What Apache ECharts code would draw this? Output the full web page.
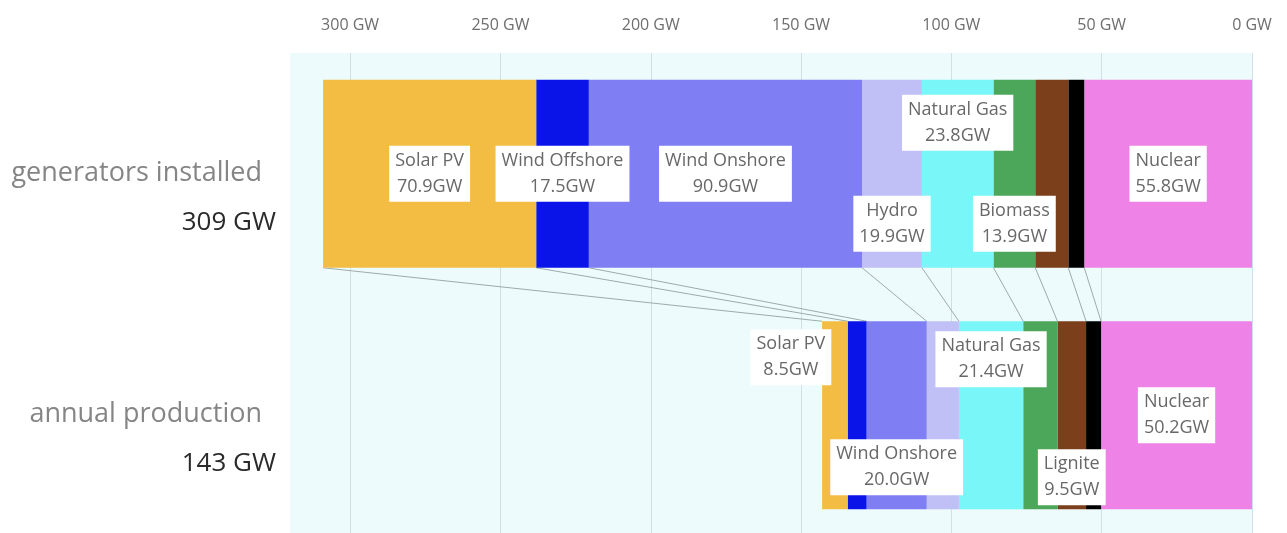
<!DOCTYPE html>
<html>
<head>
<meta charset="utf-8">
<script src="https://cdn.jsdelivr.net/npm/echarts@6/dist/echarts.min.js"></script>
<style>
  html, body { margin: 0; padding: 0; background: #fff; overflow: hidden; }
  #chart { width: 1287px; height: 540px; }
</style>
</head>
<body>
<div id="chart"></div>
<script>
// rows of the chart
const categories = ['generators installed', 'annual production'];
// stacked from 0 GW (right) outwards
const sources = ['Nuclear', 'Hard Coal', 'Lignite', 'Biomass', 'Natural Gas', 'Hydro', 'Wind Onshore', 'Wind Offshore', 'Solar PV'];
const installed = [55.8, 5.3, 11.0, 13.9, 23.8, 19.9, 90.9, 17.5, 70.9];
const production = [50.2, 5.0, 9.5, 11.4, 21.4, 10.7, 20.0, 6.3, 8.5];
const tickValues = [0, 50, 100, 150, 200, 250, 300];

const colors = ['#ee82e6', '#000000', '#7b3f1b', '#4ca75a', '#78f6f8', '#c0bff6', '#7f7ef2', '#0a14e8', '#f3bd43'];

// where each segment label sits (null = no label), per row
const labelPlace = [
  { 'Nuclear': 'inside', 'Biomass': 'insideBottom', 'Natural Gas': 'insideTop', 'Hydro': 'insideBottom',
    'Wind Onshore': 'inside', 'Wind Offshore': 'inside', 'Solar PV': 'inside' },
  { 'Nuclear': 'inside', 'Lignite': 'insideBottom', 'Natural Gas': 'insideTop', 'Wind Onshore': 'insideBottom',
    'Solar PV': 'insideTop' }
];
const labelDistance = [
  { 'Natural Gas': 15, 'Hydro': 16, 'Biomass': 16 },
  { 'Natural Gas': 10, 'Wind Onshore': 14, 'Lignite': 4, 'Solar PV': 8 }
];
const labelOffset = [{}, { 'Solar PV': [-44, 0] }];

const barWidth = 188;
const fontFamily = '"Open Sans", "DejaVu Sans", sans-serif';

const rows = [installed, production];
const totals = rows.map(r => Math.round(r.reduce((a, b) => a + b, 0)));

// boundaries between segments, top row -> bottom row
const links = [];
let accTop = 0, accBot = 0;
for (let i = 0; i < sources.length; i++) {
  accTop += installed[i];
  accBot += production[i];
  links.push([accTop, accBot, 0]);
}

const labelStyle = {
  backgroundColor: '#ffffff',
  color: '#686868',
  fontSize: 18,
  lineHeight: 26,
  padding: [2, 6],
  fontFamily: fontFamily,
  formatter: function (p) {
    return p.seriesName + '\n' + p.value.toFixed(1) + 'GW';
  }
};

const barSeries = sources.map(function (name, si) {
  return {
    name: name,
    type: 'bar',
    stack: 'total',
    barWidth: barWidth,
    z: 3,
    itemStyle: { color: colors[si] },
    data: rows.map(function (row, ri) {
      const pos = labelPlace[ri][name];
      const item = { value: row[si] };
      if (pos) {
        item.label = Object.assign({}, labelStyle, {
          show: true,
          position: pos,
          distance: labelDistance[ri][name] || 5,
          offset: labelOffset[ri][name] || [0, 0]
        });
      } else {
        item.label = { show: false };
      }
      return item;
    })
  };
});

const chart = echarts.init(document.getElementById('chart'));
const option = {
  animation: false,
  backgroundColor: '#ffffff',
  grid: {
    left: 290,
    right: 35,
    top: 53,
    height: 483,
    show: true,
    backgroundColor: '#edfbfc',
    borderWidth: 0
  },
  xAxis: {
    type: 'value',
    position: 'top',
    inverse: true,
    min: 0,
    max: 320,
    interval: 50,
    axisLine: { show: false },
    axisTick: { show: false },
    axisLabel: {
      color: '#6e6e6e',
      fontSize: 16,
      fontFamily: fontFamily,
      margin: 20,
      showMaxLabel: false,
      formatter: function (v) {
        return tickValues.indexOf(v) >= 0 ? v + ' GW' : '';
      }
    },
    splitLine: {
      show: true,
      showMaxLine: false,
      lineStyle: { color: '#cfe1e4', width: 1 }
    }
  },
  yAxis: {
    type: 'category',
    inverse: true,
    data: categories,
    axisLine: { show: false },
    axisTick: { show: false },
    splitLine: { show: false },
    axisLabel: {
      margin: 14,
      padding: [48, 0, 0, 0],
      fontFamily: fontFamily,
      formatter: function (value, index) {
        return '{a|' + value + '}\n{b|' + totals[index] + ' GW}';
      },
      rich: {
        a: { fontSize: 27, color: '#858585', lineHeight: 49, padding: [0, 14, 0, 0], fontFamily: fontFamily },
        b: { fontSize: 26, color: '#2a2a2a', lineHeight: 49, fontFamily: fontFamily }
      }
    }
  },
  series: [
    {
      name: 'links',
      type: 'custom',
      silent: true,
      z: 1,
      encode: { x: [0, 1], y: 2 },
      data: links,
      renderItem: function (params, api) {
        const top = api.coord([api.value(0), 0]);
        const bot = api.coord([api.value(1), 1]);
        const half = barWidth / 2;
        return {
          type: 'line',
          shape: { x1: top[0], y1: top[1] + half, x2: bot[0], y2: bot[1] - half },
          style: { stroke: '#9eabad', lineWidth: 1 }
        };
      }
    }
  ].concat(barSeries)
};
chart.setOption(option);
</script>
</body>
</html>
